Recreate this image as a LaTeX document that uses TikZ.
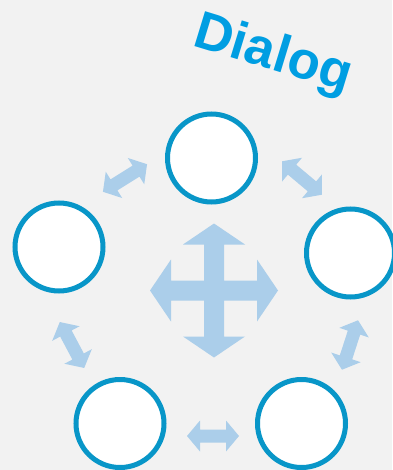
\documentclass[tikz,border=0pt]{standalone}
\usepackage{fontspec}
\setmainfont{Liberation Sans}
\definecolor{bgcol}{HTML}{F2F2F2}
\definecolor{ringcol}{HTML}{0896C8}
\definecolor{arrowcol}{HTML}{ABCEEA}
\definecolor{titlecol}{HTML}{009EE2}
\tikzset{
  member/.style={circle, draw=ringcol, line width=5pt, fill=white,
    minimum size=88pt, inner sep=0pt},
  title/.style={text=titlecol, font=\fontsize{53}{53}\selectfont\bfseries,
    inner sep=0pt},
  dbl/.pic={
    \fill[arrowcol] (-26,0) -- (-13,-15.5) -- (-13,-6.5) -- (13,-6.5) -- (13,-15.5)
      -- (26,0) -- (13,15.5) -- (13,6.5) -- (-13,6.5) -- (-13,15.5) -- cycle;
  }
}
\begin{document}
\begin{tikzpicture}[x=1pt,y=-1pt]
  \fill[bgcol] (0,0) rectangle (392,470);
  \useasboundingbox (0,0) rectangle (392,470);

  % heading
  \node[title, anchor=base west, rotate=-17] (head) at (191,45) {Dialog};

  % central four-way arrow
  \fill[arrowcol, shift={(214,290.5)}]
    (0,-67) -- (31,-46) -- (10,-46) -- (10,-10) -- (43,-10) -- (43,-31)
    -- (64,0) -- (43,31) -- (43,10) -- (10,10) -- (10,46) -- (31,46)
    -- (0,67) -- (-31,46) -- (-10,46) -- (-10,10) -- (-43,10) -- (-43,31)
    -- (-64,0) -- (-43,-31) -- (-43,-10) -- (-10,-10) -- (-10,-46)
    -- (-31,-46) -- cycle;

  % exchange arrows between neighbouring members
  \pic[rotate=32] at (125,178) {dbl};
  \pic[rotate=-40] at (302,178) {dbl};
  \pic[rotate=-62] at (72,345) {dbl};
  \pic[rotate=-108] at (350,345) {dbl};
  \pic at (213,436) {dbl};

  % participants
  \node[member] (top)   at (211.5,158) {};
  \node[member] (left)  at (59,247) {};
  \node[member] (right) at (350.5,253) {};
  \node[member] (bl)    at (120,423.5) {};
  \node[member] (br)    at (301.5,423.5) {};
\end{tikzpicture}
\end{document}
